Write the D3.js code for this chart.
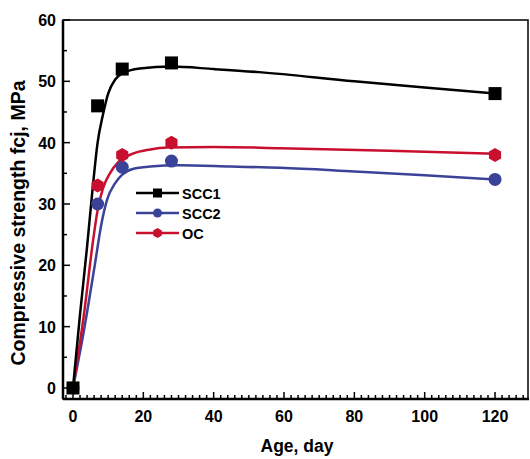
<!DOCTYPE html>
<head>
<meta charset="utf-8">
<script src="https://d3js.org/d3.v7.min.js"></script>
<style>
  body { margin: 0; background: #fff; }
  text { font-family: "Liberation Sans", Arial, sans-serif; font-weight: bold; }
</style>
</head>
<body>
<svg id="chart" width="530" height="459"></svg>
<script>
// measured points
const ages = [0, 7, 14, 28, 120];
const scc1 = [0, 46, 52, 53, 48];
const scc2 = [0, 30, 36, 37, 34];
const oc = [0, 33, 38, 40, 38];

// fitted curves [age, MPa]
const scc1Fit = [[0,0],[2,12],[4,23],[5.5,32],[7,40],[8.5,44.5],[10,48],[12,50.3],[14,51.3],[19,52.1],[28,52.4],[40,52],[53,51.5],[80,50],[100,49],[120,48]];
const scc2Fit = [[0,0],[3,9],[6.3,20.4],[8,26.5],[9.7,30.7],[12,33.4],[14,34.8],[17,35.7],[22,36.1],[30,36.3],[45,36.1],[59,35.9],[80,35.3],[100,34.7],[120,34]];
const ocFit = [[0,0],[3,11.5],[5.7,24],[7,29],[8.5,32.5],[10.5,35],[13,36.9],[17,38.2],[22,38.9],[27,39.2],[40,39.3],[59,39.1],[90,38.7],[120,38.2]];

const xTicks = [0, 20, 40, 60, 80, 100, 120];
const yTicks = [0, 10, 20, 30, 40, 50, 60];

const seriesNames = ['SCC1', 'SCC2', 'OC'];
const seriesColors = ['#000000', '#3b4399', '#c8102e'];

const svg = d3.select('#chart');
const pLeft = 63, pRight = 529, pTop = 20, pBottom = 399;

const x = d3.scaleLinear().domain([-2.84, 129.66]).range([pLeft, pRight]);
const y = d3.scaleLinear().domain([-1.8, 60]).range([pBottom, pTop]);

// frame
svg.append('rect')
  .attr('x', pLeft).attr('y', pTop)
  .attr('width', pRight - pLeft - 1).attr('height', pBottom - pTop)
  .attr('fill', 'none').attr('stroke', '#000').attr('stroke-width', 1.5);

// minor ticks
const xMinor = d3.range(-2, 130, 2);
svg.append('g').selectAll('line').data(xMinor).enter().append('line')
  .attr('x1', d => x(d)).attr('x2', d => x(d))
  .attr('y1', pBottom).attr('y2', d => d % 20 === 0 ? pBottom - 7 : pBottom - 4)
  .attr('stroke', '#000').attr('stroke-width', 1.5);

const yMinor = d3.range(0, 61, 5);
svg.append('g').selectAll('line').data(yMinor).enter().append('line')
  .attr('y1', d => y(d)).attr('y2', d => y(d))
  .attr('x1', pLeft).attr('x2', d => d % 10 === 0 ? pLeft + 7 : pLeft + 4)
  .attr('stroke', '#000').attr('stroke-width', 1.5);

// axis lines
svg.append('line').attr('x1', pLeft).attr('x2', pLeft).attr('y1', pTop).attr('y2', pBottom)
  .attr('stroke', '#000').attr('stroke-width', 2.5);
svg.append('line').attr('x1', pLeft).attr('x2', pRight).attr('y1', pBottom).attr('y2', pBottom)
  .attr('stroke', '#000').attr('stroke-width', 2.5);

// tick labels
svg.append('g').selectAll('text').data(xTicks).enter().append('text')
  .attr('x', d => x(d)).attr('y', 422)
  .attr('text-anchor', 'middle').style('font-size', '16px')
  .text(d => d);

svg.append('g').selectAll('text').data(yTicks).enter().append('text')
  .attr('x', 56).attr('y', d => y(d) + 6)
  .attr('text-anchor', 'end').style('font-size', '16px')
  .text(d => d);

// axis titles
svg.append('text')
  .attr('x', 297).attr('y', 452)
  .attr('text-anchor', 'middle').style('font-size', '17.5px')
  .text('Age, day');

svg.append('text')
  .attr('transform', 'translate(25,223) rotate(-90)')
  .attr('text-anchor', 'middle').style('font-size', '19.5px')
  .text('Compressive strength fcj, MPa');

// fitted curves
const line = d3.line().x(d => x(d[0])).y(d => y(d[1])).curve(d3.curveMonotoneX);
const fits = [scc1Fit, scc2Fit, ocFit];
const points = [scc1, scc2, oc];

// draw in order: SCC2, OC, SCC1
[1, 2, 0].forEach(function(i) {
  svg.append('path')
    .datum(fits[i])
    .attr('d', line)
    .attr('fill', 'none')
    .attr('stroke', seriesColors[i])
    .attr('stroke-width', 2.5);
});

function marker(g, i, cx, cy, size) {
  if (i === 0) {
    g.append('rect')
      .attr('x', cx - size / 2).attr('y', cy - size / 2)
      .attr('width', size).attr('height', size)
      .attr('fill', seriesColors[i]);
  } else if (i === 1) {
    g.append('circle').attr('cx', cx).attr('cy', cy).attr('r', size / 2)
      .attr('fill', seriesColors[i]);
  } else {
    const r = size / 2 + 0.5;
    const pts = d3.range(6).map(k => {
      const a = Math.PI / 6 + k * Math.PI / 3;
      return [cx + r * Math.cos(a), cy + r * Math.sin(a)];
    });
    g.append('polygon').attr('points', pts.map(p => p.join(',')).join(' '))
      .attr('fill', seriesColors[i]);
  }
}

[1, 2, 0].forEach(function(i) {
  const g = svg.append('g');
  ages.forEach(function(a, j) {
    marker(g, i, x(a), y(points[i][j]), 13);
  });
});

// legend
const legend = svg.append('g');
seriesNames.forEach(function(name, i) {
  const ly = 193 + i * 20;
  legend.append('line')
    .attr('x1', 136).attr('x2', 179).attr('y1', ly).attr('y2', ly)
    .attr('stroke', seriesColors[i]).attr('stroke-width', 2.5);
  marker(legend, i, 157.5, ly, 9);
  legend.append('text')
    .attr('x', 182).attr('y', ly + 5.5)
    .style('font-size', '14.5px')
    .text(name);
});
</script>
</body>
